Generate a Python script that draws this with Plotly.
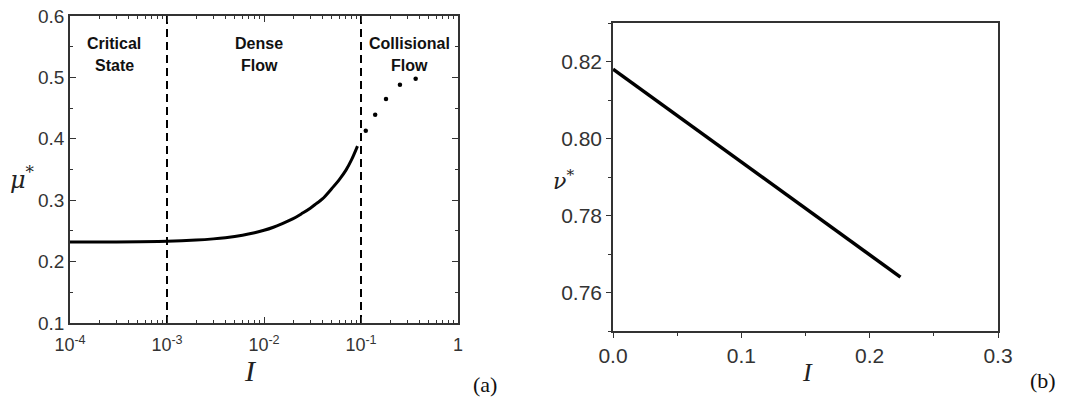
import math
import plotly.graph_objects as go

# ---- data: panel (a) ----
I_solid = [1e-4, 3e-4, 1e-3, 2e-3, 3e-3, 4e-3, 6e-3, 8e-3, 1e-2, 1.25e-2, 1.5e-2, 2e-2, 2.5e-2, 3e-2,
           3.5e-2, 4e-2, 5e-2, 6e-2, 7e-2, 8e-2, 9.2e-2]
mu_solid = [0.232, 0.232, 0.233, 0.235, 0.237, 0.239, 0.243, 0.247, 0.251, 0.256, 0.261, 0.270, 0.279, 0.287,
            0.295, 0.302, 0.319, 0.334, 0.349, 0.366, 0.388]
I_dots = [0.112, 0.140, 0.181, 0.252, 0.366]
mu_dots = [0.413, 0.439, 0.465, 0.488, 0.498]
regime_bounds = [1e-3, 1e-1]
regime_labels = [("Critical", "State"), ("Dense", "Flow"), ("Collisional", "Flow")]
regime_x = [2.85e-4, 8.9e-3, 3.13e-1]
xa_tickvals = [1e-4, 1e-3, 1e-2, 1e-1, 1]
xa_ticktext = ["10<sup>-4</sup>", "10<sup>-3</sup>", "10<sup>-2</sup>", "10<sup>-1</sup>", "1"]
ya_tickvals = [0.1, 0.2, 0.3, 0.4, 0.5, 0.6]

# ---- data: panel (b) ----
I_b = [0.0, 0.224]
nu_b = [0.818, 0.764]
yb_tickvals = [0.76, 0.78, 0.80, 0.82]

W, H = 1065, 403


def px(x):
    return x / W


def py(y):
    return (H - y) / H


AX = "#333333"
fig = go.Figure()

fig.add_trace(go.Scatter(x=I_solid, y=mu_solid, mode="lines", line_shape="spline",
                         line=dict(color="black", width=3), xaxis="x", yaxis="y", showlegend=False))
fig.add_trace(go.Scatter(x=I_dots, y=mu_dots, mode="markers",
                         marker=dict(color="black", size=4.5), xaxis="x", yaxis="y", showlegend=False))
for xb in regime_bounds:
    fig.add_trace(go.Scatter(x=[xb, xb], y=[0.1, 0.6], mode="lines",
                             line=dict(color="black", width=2, dash="8px,5px"),
                             xaxis="x", yaxis="y", showlegend=False))

fig.add_trace(go.Scatter(x=I_b, y=nu_b, mode="lines",
                         line=dict(color="black", width=3.5), xaxis="x2", yaxis="y2", showlegend=False))

minor_log = [m * 10 ** k for k in range(-4, 0) for m in range(2, 10)]

fig.update_layout(
    width=W, height=H,
    margin=dict(l=0, r=0, t=0, b=0, autoexpand=False),
    paper_bgcolor="white", plot_bgcolor="white",
    font=dict(family="Liberation Sans, Arial, sans-serif", color=AX),
    xaxis=dict(domain=[px(70), px(458)], type="log", range=[-4, 0], anchor="y", automargin=False,
               tickvals=xa_tickvals, ticktext=xa_ticktext, ticklabeloverflow="allow",
               ticks="inside", ticklen=6, tickwidth=1.2, tickcolor=AX,
               showline=True, linecolor=AX, linewidth=1.5, mirror="allticks",
               showgrid=False, zeroline=False, tickfont=dict(size=18),
               ticklabelstandoff=5,
               minor=dict(tickvals=minor_log, ticks="inside", ticklen=3, tickcolor=AX, showgrid=False)),
    yaxis=dict(domain=[py(323), py(16)], range=[0.1, 0.6], anchor="x", automargin=False,
               tickvals=ya_tickvals, tickformat=".1f", ticklabeloverflow="allow",
               ticks="inside", ticklen=6, tickwidth=1.2, tickcolor=AX,
               showline=True, linecolor=AX, linewidth=1.5, mirror="allticks",
               showgrid=False, zeroline=False, tickfont=dict(size=19),
               minor=dict(dtick=0.05, ticks="inside", ticklen=3, tickcolor=AX, showgrid=False)),
    xaxis2=dict(domain=[px(613), px(998)], range=[0, 0.3], anchor="y2", automargin=False,
                dtick=0.1, tick0=0, tickformat=".1f", ticklabeloverflow="allow",
                ticks="outside", ticklen=5, tickwidth=1.2, tickcolor=AX,
                showline=True, linecolor=AX, linewidth=1.5, mirror=True,
                showgrid=False, zeroline=False, tickfont=dict(size=21),
                minor=dict(dtick=0.05, ticks="outside", ticklen=3, tickcolor=AX, showgrid=False)),
    yaxis2=dict(domain=[py(331), py(23)], range=[0.75, 0.83], anchor="x2", automargin=False,
                tickvals=yb_tickvals, tickformat=".2f", ticklabeloverflow="allow",
                ticks="outside", ticklen=5, tickwidth=1.2, tickcolor=AX,
                showline=True, linecolor=AX, linewidth=1.5, mirror=True,
                showgrid=False, zeroline=False, tickfont=dict(size=21),
                minor=dict(dtick=0.01, ticks="outside", ticklen=3, tickcolor=AX, showgrid=False)),
)

ann = []
for (l1, l2), xv in zip(regime_labels, regime_x):
    for txt, yv in ((l1, 0.556), (l2, 0.519)):
        ann.append(dict(x=math.log10(xv), y=yv, xref="x", yref="y", text="<b>%s</b>" % txt,
                        showarrow=False, font=dict(size=16, color="#111111"),
                        xanchor="center", yanchor="middle"))
serif = "Liberation Serif, Times New Roman, serif"
ann += [
    dict(x=px(250), y=py(370), xref="paper", yref="paper", text="<i>I</i>",
         showarrow=False, font=dict(family=serif, size=30, color="#222"), xanchor="center", yanchor="middle"),
    dict(x=px(485), y=py(384), xref="paper", yref="paper", text="(a)",
         showarrow=False, font=dict(family=serif, size=22, color="#111"), xanchor="center", yanchor="middle"),
    dict(x=px(22), y=py(178), xref="paper", yref="paper", text="<i>μ</i><sup>*</sup>",
         showarrow=False, font=dict(family="DejaVu Serif, serif", size=24, color="#222"), xanchor="center", yanchor="middle"),
    dict(x=px(807), y=py(372), xref="paper", yref="paper", text="<i>I</i>",
         showarrow=False, font=dict(family=serif, size=26, color="#222"), xanchor="center", yanchor="middle"),
    dict(x=px(1043), y=py(380), xref="paper", yref="paper", text="(b)",
         showarrow=False, font=dict(family=serif, size=22, color="#111"), xanchor="center", yanchor="middle"),
    dict(x=px(563), y=py(180), xref="paper", yref="paper", text="<i>ν</i><sup>*</sup>",
         showarrow=False, font=dict(family="DejaVu Serif, serif", size=22, color="#222"), xanchor="center", yanchor="middle"),
]
fig.update_layout(annotations=ann)

fig.write_html("out.html", config={"displayModeBar": False},
               post_script="document.body.style.margin='0px';document.body.style.overflow='hidden';")
